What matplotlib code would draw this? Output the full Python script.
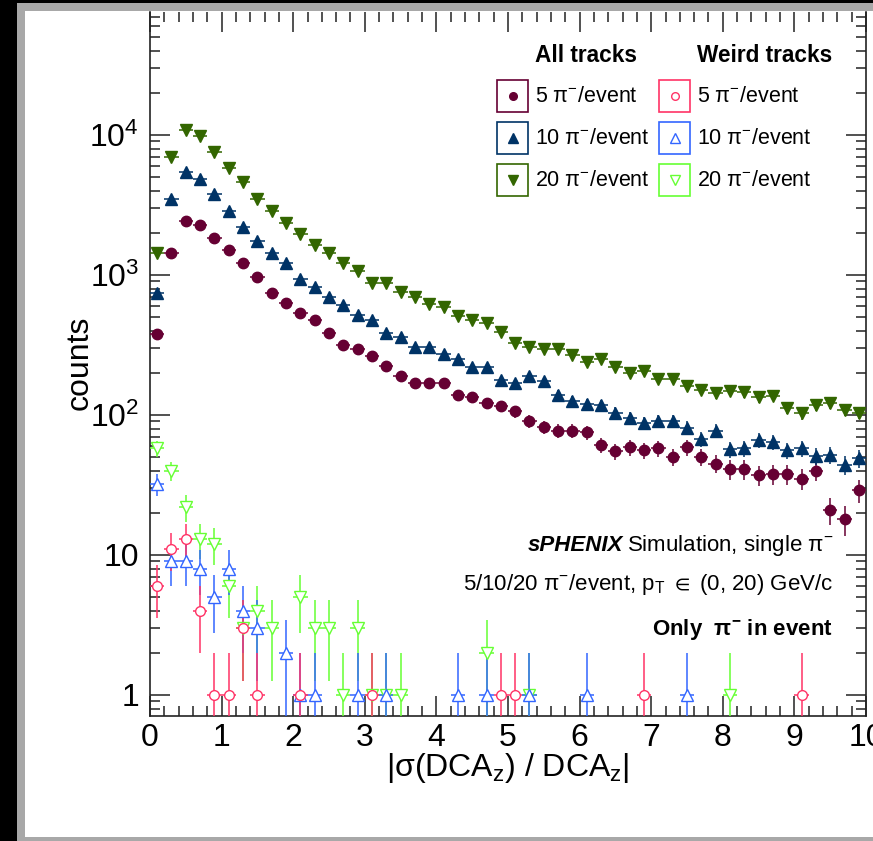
import numpy as np
import matplotlib
matplotlib.use("Agg")
import matplotlib.pyplot as plt
from matplotlib.patches import Rectangle
from matplotlib.lines import Line2D
from matplotlib.ticker import FixedLocator, FixedFormatter, NullFormatter

plt.rcParams['font.family'] = ['Liberation Sans', 'DejaVu Sans']
plt.rcParams['mathtext.fontset'] = 'custom'
plt.rcParams['mathtext.rm'] = 'Liberation Sans'
plt.rcParams['mathtext.it'] = 'Liberation Sans:italic'
plt.rcParams['mathtext.bf'] = 'Liberation Sans:bold'
plt.rcParams['mathtext.sf'] = 'Liberation Sans'
plt.rcParams['mathtext.default'] = 'regular'
plt.rcParams['mathtext.fallback'] = 'stixsans'

W, H = 873, 841

# bin centres, 50 bins of width 0.2 in |sigma(DCAz)/DCAz|
binCentros = np.arange(0.1, 10.0, 0.2)

# all tracks
todas5 = [377, 1430, 2430, 2280, 1830, 1510, 1210, 973, 740, 634,
          532, 477, 383, 316, 295, 264, 225, 190, 170, 170,
          170, 139, 135, 121, 115, 106, 90, 82, 77, 77,
          75, 61, 55, 59, 56, 58, 50, 59, 50, 45,
          41, 41, 37, 38, 38, 35, 40, 21, 18, 29]
todas10 = [748, 3490, 5470, 4820, 3770, 2860, 2210, 1760, 1430, 1210,
           931, 825, 693, 611, 518, 477, 383, 363, 306, 306,
           272, 250, 221, 221, 178, 168, 190, 175, 139, 126,
           120, 118, 104, 95, 88, 91, 91, 81, 67, 77,
           57, 58, 66, 64, 56, 58, 51, 52, 44, 49]
todas20 = [1436, 6960, 10860, 9840, 7560, 5810, 4610, 3490, 2860, 2350,
           1963, 1630, 1430, 1212, 1068, 873, 873, 760, 693, 621,
           586, 512, 477, 457, 393, 328, 307, 296, 296, 268,
           238, 251, 219, 199, 207, 180, 180, 161, 151, 143,
           149, 145, 134, 137, 112, 103, 118, 122, 109, 104]

# weird tracks (0 = empty bin, not drawn)
estranhas5 = [6, 11, 13, 4, 1, 1, 3, 1, 0, 0,
              1, 0, 0, 0, 0, 1, 0, 0, 0, 0,
              0, 0, 0, 0, 1, 1, 0, 0, 0, 0,
              0, 0, 0, 0, 1, 0, 0, 0, 0, 0,
              0, 0, 0, 0, 0, 1, 0, 0, 0, 0]
estranhas10 = [32, 9, 9, 8, 5, 8, 4, 3, 0, 2,
               1, 1, 0, 0, 1, 0, 1, 0, 0, 0,
               0, 1, 0, 1, 0, 0, 1, 0, 0, 0,
               1, 0, 0, 0, 0, 0, 0, 1, 0, 0,
               0, 0, 0, 0, 0, 0, 0, 0, 0, 0]
estranhas20 = [58, 40, 22, 13, 12, 6, 3, 4, 3, 0,
               5, 3, 3, 1, 3, 1, 1, 1, 0, 0,
               0, 0, 0, 2, 0, 0, 1, 0, 0, 0,
               0, 0, 0, 0, 0, 0, 0, 0, 0, 0,
               1, 0, 0, 0, 0, 0, 0, 0, 0, 0]

rotulos = ['5 π$^{-}$/event', '10 π$^{-}$/event', '20 π$^{-}$/event']
coresTodas = ['#660033', '#003366', '#336600']
coresEstranhas = ['#ff3366', '#3366ff', '#66ff33']


def fx(px):
    return px / W


def fy(py):
    return 1 - py / H


def desenhar(ax, valores, cor, marcador, ms, aberto):
    v = np.array(valores, dtype=float)
    m = v > 0
    x = binCentros[m]
    y = v[m]
    err = np.sqrt(y)
    baixo = np.minimum(err, y - 1e-3)
    ax.errorbar(x, y, xerr=0.1, yerr=[baixo, err], fmt=marcador, ms=ms,
                color=cor, mec=cor, mfc='white' if aberto else cor,
                mew=1.0, elinewidth=1.1, capsize=0, zorder=3)


fig = plt.figure(figsize=(W / 100, H / 100), dpi=100, facecolor='black')
fig.add_artist(Rectangle((fx(17), 0), 1, fy(3.3), transform=fig.transFigure,
                         facecolor='#a8a8a8', edgecolor='none', zorder=-10))
fig.add_artist(Rectangle((fx(25), fy(837)), 1, fy(10.5) - fy(837),
                         transform=fig.transFigure, facecolor='white', edgecolor='none', zorder=-9))

ax = fig.add_axes([fx(150), fy(716), fx(866) - fx(150), fy(11.5) - fy(716)])
ax.set_yscale('log')
ax.set_xlim(0, 10)
ax.set_ylim(10 ** -0.15, 10 ** 4.882)
ax.patch.set_alpha(0)

marcTodas = ['o', '^', 'v']
msTodas = [7.5, 9, 9]
for i, dados in enumerate([todas5, todas10, todas20]):
    desenhar(ax, dados, coresTodas[i], marcTodas[i], msTodas[i], False)
for i, dados in enumerate([estranhas20, estranhas10, estranhas5]):
    j = 2 - i
    desenhar(ax, dados, coresEstranhas[j], marcTodas[j], 7 if j == 0 else 9, True)

# axes style, ROOT-like
for lado in ['left', 'bottom', 'right']:
    ax.spines[lado].set_linewidth(1.2)
    ax.spines[lado].set_color('#222222')
ax.spines['top'].set_visible(False)

ax.set_xticks(np.arange(0, 11, 1))
ax.set_xticks(np.arange(0, 10.01, 0.2), minor=True)
ax.set_xticklabels([str(i) for i in range(11)])
ax.yaxis.set_major_locator(FixedLocator([1, 10, 100, 1000, 10000]))
ax.yaxis.set_major_formatter(FixedFormatter(['1', '10', '$10^{2}$', '$10^{3}$', '$10^{4}$']))
minY = [m * 10 ** d for d in range(-1, 5) for m in range(2, 10)]
ax.yaxis.set_minor_locator(FixedLocator(minY))
ax.yaxis.set_minor_formatter(NullFormatter())
ax.tick_params(which='both', direction='in', top=True, right=True, color='#222222', width=1.1)
ax.tick_params(which='major', length=14.5, labelsize=23)
ax.tick_params(which='minor', length=7.5)
ax.tick_params(axis='x', which='major', pad=5)
ax.tick_params(axis='y', which='major', pad=8)

fig.text(fx(80), fy(363), 'counts', rotation=90, ha='center', va='center', fontsize=23)
fig.text(fx(508), fy(768), r'|σ(DCA$_{z}$) / DCA$_{z}$|', ha='center', va='center', fontsize=23)

# legend built by hand
fig.text(fx(535), fy(55), 'All tracks', fontsize=16.3, fontweight='bold', ha='left', va='center')
fig.text(fx(697), fy(55), 'Weird tracks', fontsize=16.3, fontweight='bold', ha='left', va='center')
linhasY = [96, 138, 180]
for col, (xBox, xTxt, cores, aberto) in enumerate([(497, 535, coresTodas, False),
                                                    (659, 697, coresEstranhas, True)]):
    for i in range(3):
        yc = linhasY[i]
        fig.add_artist(Rectangle((fx(xBox), fy(yc + 15.5)), fx(31), 31 / H,
                                 transform=fig.transFigure, facecolor='none',
                                 edgecolor=cores[i], linewidth=1.2))
        fig.add_artist(Line2D([fx(xBox + 15.5)], [fy(yc)], transform=fig.transFigure,
                              marker=marcTodas[i], ms=5.5 if i == 0 else 7, color=cores[i],
                              mfc='white' if aberto else cores[i], mec=cores[i], mew=1.0))
        fig.text(fx(xTxt), fy(yc), rotulos[i], fontsize=15.5, ha='left', va='center')

# labels
fig.text(fx(623), fy(550.7), 'sPHENIX', fontsize=16, fontweight='bold', fontstyle='italic',
         ha='right', va='baseline')
fig.text(fx(833), fy(550.7), 'Simulation, single π$^{-}$', fontsize=16, ha='right', va='baseline')
fig.text(fx(833), fy(590), r'5/10/20 π$^{-}$/event, p$_{T}$ ${\in}$ (0, 20) GeV/c', fontsize=16,
         ha='right', va='baseline')
fig.text(fx(833), fy(635), 'Only  π$^{-}$ in event', fontsize=16, fontweight='bold',
         ha='right', va='baseline')

fig.savefig('out.png', dpi=100, facecolor=fig.get_facecolor())
